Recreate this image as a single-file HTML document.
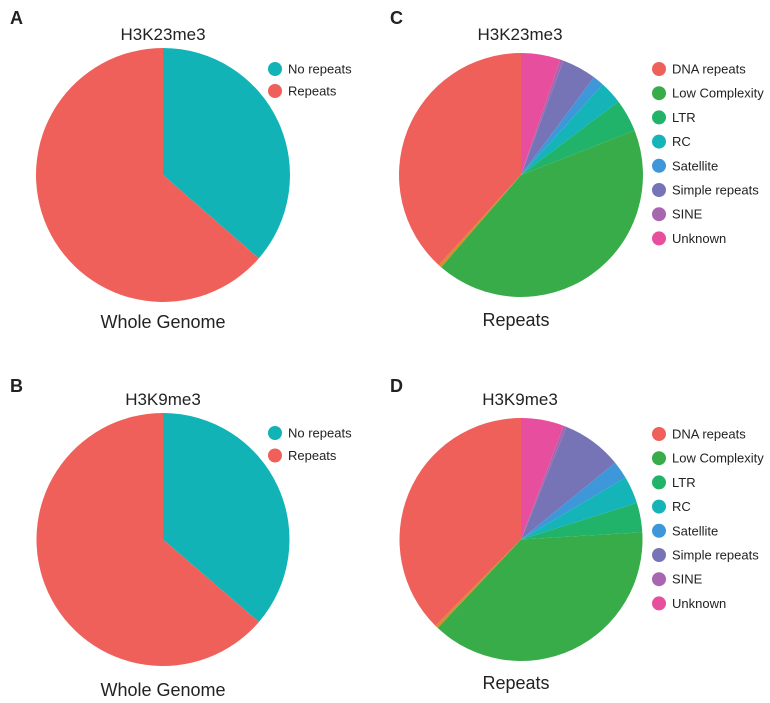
<!DOCTYPE html>
<html><head><meta charset="utf-8"><style>
html,body{margin:0;padding:0;background:#fff;}
svg{display:block;font-family:"Liberation Sans",Arial,sans-serif;}
</style></head><body>
<svg id="fig" width="770" height="703" viewBox="0 0 770 703"></svg>
<script>
// Panel A / B values (percent)
const wgCategories = ["No repeats","Repeats"];
const wgValuesA = [36.4, 63.6];
const wgValuesB = [36.3, 63.7];
// Panel C / D values (shares), clockwise from top
const repCategories = ["Unknown","SINE","Simple repeats","Satellite","RC","LTR","Low Complexity","Other","DNA repeats"];
const repValuesC = [18.8, 1.5, 16.5, 5.2, 11.0, 15.6, 152.3, 1.5, 137.6];
const repValuesD = [20.5, 1.5, 28.8, 8.5, 13.2, 14.1, 136.7, 1.5, 135.2];
const legendCategories = ["DNA repeats","Low Complexity","LTR","RC","Satellite","Simple repeats","SINE","Unknown"];

const colors = {"No repeats":"#12B3B6","Repeats":"#F0605A","DNA repeats":"#F0605A","Low Complexity":"#39AC4A","LTR":"#22B36B","RC":"#14B4B8","Satellite":"#3D97D8","Simple repeats":"#7674B7","SINE":"#A866AE","Unknown":"#E84E9E","Other":"#D98B2E"};

const NS="http://www.w3.org/2000/svg";
const svg=document.getElementById('fig');
function mk(tag,attrs,parent){const e=document.createElementNS(NS,tag);for(const k in attrs)e.setAttribute(k,attrs[k]);(parent||svg).appendChild(e);return e;}
function txt(x,y,s,size,anchor,weight,name){const t=mk('text',{x:x,y:y,'font-size':size,'text-anchor':anchor||'middle','font-weight':weight||'normal',fill:'#222'});t.textContent=s;


return t;}

function pie(cx,cy,r,cats,vals,name){
  const g=mk('g',{});
  
  
  const total=vals.reduce((a,b)=>a+b,0);
  let a0=0;
  cats.forEach((c,i)=>{
    const a1=a0+vals[i]/total*2*Math.PI;
    const x0=cx+r*Math.sin(a0),y0=cy-r*Math.cos(a0),x1=cx+r*Math.sin(a1),y1=cy-r*Math.cos(a1);
    const large=(a1-a0)>Math.PI?1:0;
    const p=mk('path',{d:`M${cx},${cy}L${x0},${y0}A${r},${r} 0 ${large} 1 ${x1},${y1}Z`,fill:colors[c]},g);
    
    
    a0=a1;
  });
}
function legend(x,y,step,cats,name){
  const g=mk('g',{});
  
  
  cats.forEach((c,i)=>{
    const cy=y+i*step;
    const d=mk('circle',{cx:x,cy:cy,r:7,fill:colors[c]},g);
    
    
    const t=mk('text',{x:x+13,y:cy+4.5,'font-size':13,fill:'#222'},g);
    t.textContent=c;
    
    
  });
}

// Panel A
txt(10,24,"A",18,'start','bold','panel-label-a');
txt(163,40,"H3K23me3",17,'middle','normal','title-a');
pie(163,175,127,wgCategories,wgValuesA,'pie-a');
legend(275,69,22,wgCategories,'legend-a');
txt(163,328,"Whole Genome",18,'middle','normal','caption-a');
// Panel B
txt(10,392,"B",18,'start','bold','panel-label-b');
txt(163,405,"H3K9me3",17,'middle','normal','title-b');
pie(163,539.5,126.5,wgCategories,wgValuesB,'pie-b');
legend(275,433,22.5,wgCategories,'legend-b');
txt(163,696,"Whole Genome",18,'middle','normal','caption-b');
// Panel C
txt(390,24,"C",18,'start','bold','panel-label-c');
txt(520,40,"H3K23me3",17,'middle','normal','title-c');
pie(521,175,122,repCategories,repValuesC,'pie-c');
legend(659,69,24.2,legendCategories,'legend-c');
txt(516,326,"Repeats",18,'middle','normal','caption-c');
// Panel D
txt(390,392,"D",18,'start','bold','panel-label-d');
txt(520,405,"H3K9me3",17,'middle','normal','title-d');
pie(521,539.5,121.5,repCategories,repValuesD,'pie-d');
legend(659,434,24.2,legendCategories,'legend-d');
txt(516,689,"Repeats",18,'middle','normal','caption-d');
</script>
</body></html>
